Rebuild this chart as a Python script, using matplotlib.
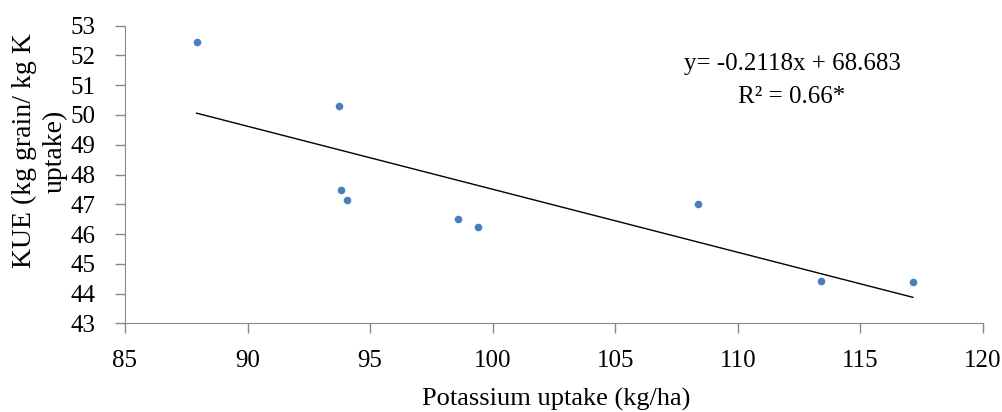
import matplotlib
matplotlib.use("Agg")
import numpy as np
import matplotlib.pyplot as plt

# Potassium uptake (kg/ha) and KUE
k_uptake = [87.92, 93.73, 93.81, 94.06, 98.57, 99.39, 108.38, 113.38, 117.14]
kue = [52.45, 50.29, 47.49, 47.14, 46.49, 46.24, 47.02, 44.42, 44.39]

# linear trend line coefficients shown on the chart
slope = -0.2118
intercept = 68.683

x_ticks = [85, 90, 95, 100, 105, 110, 115, 120]
y_ticks = [43, 44, 45, 46, 47, 48, 49, 50, 51, 52, 53]

plt.rcParams["font.family"] = ["Liberation Serif", "DejaVu Serif"]

W, H = 1003, 412
fig = plt.figure(figsize=(W / 100, H / 100), dpi=100)
ax = fig.add_axes([0.1246, 0.2153, 0.8555, 0.7223])

ax.scatter(k_uptake, kue, s=30, color="#4a7ebb", zorder=3, linewidths=0)

xs = np.array([min(k_uptake), max(k_uptake)])
ax.plot(xs, slope * xs + intercept, color="black", lw=1)

ax.set_xlim(85, 120)
ax.set_ylim(43, 53)
ax.set_xticks(x_ticks)
ax.set_yticks(y_ticks)

for side in ["top", "right"]:
    ax.spines[side].set_visible(False)
for side in ["left", "bottom"]:
    ax.spines[side].set_color("#898989")
ax.tick_params(axis="both", colors="#898989", length=7, width=1,
               labelcolor="black", labelsize=18)
ax.tick_params(axis="x", pad=12)
ax.tick_params(axis="y", pad=14)


def px(x, y):
    # pixel position from top-left -> figure fraction
    return x / W, 1 - y / H


fig.text(*px(792, 70), "y= -0.2118x + 68.683", fontsize=18,
         ha="center", va="baseline")
fig.text(*px(792, 103), "R² = 0.66*", fontsize=18,
         ha="center", va="baseline")

fig.text(*px(556, 406), "Potassium uptake (kg/ha)",
         ha="center", va="baseline", fontsize=19)
fig.text(*px(40, 151), "KUE (kg grain/ kg K\nuptake)",
         ha="center", va="center", rotation=90, fontsize=20,
         multialignment="center", linespacing=1.3)

fig.savefig("out.png", dpi=100)
